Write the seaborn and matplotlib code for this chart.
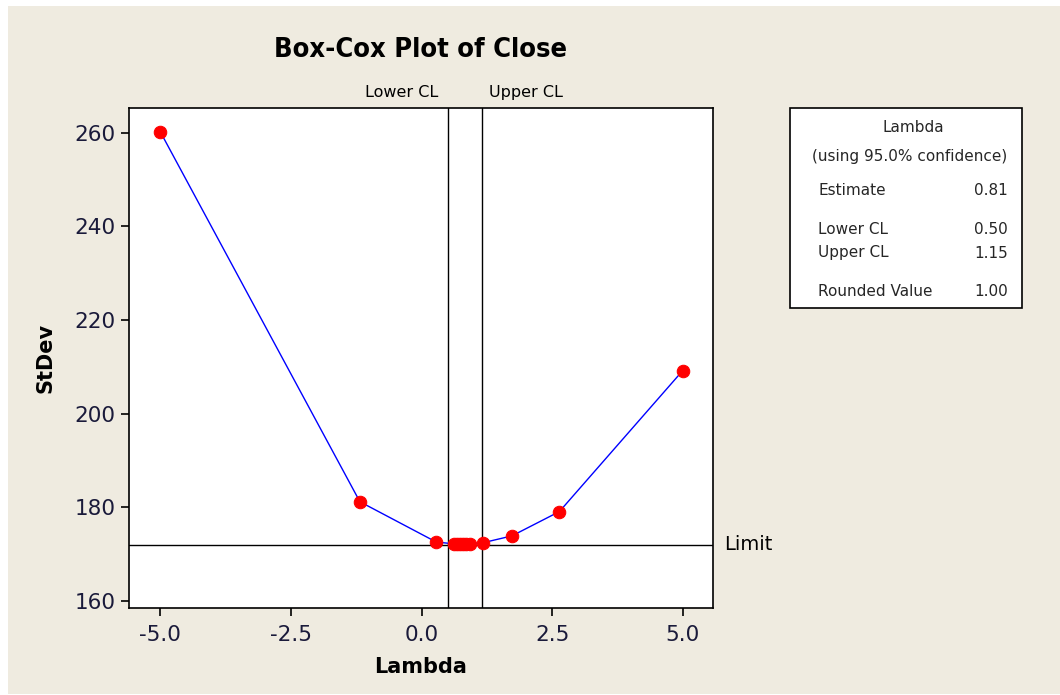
import matplotlib
matplotlib.use("Agg")
import matplotlib.pyplot as plt
import matplotlib.patches as mpatches
import pandas as pd
import seaborn as sns

# lambda values evaluated and the stdev at each
lambdas = [-5.0, -1.18, 0.28, 0.62, 0.68, 0.74, 0.80, 0.86, 0.92, 1.18, 1.73, 2.64, 5.0]
stdevs = [260.2, 181.2, 172.6, 172.2, 172.15, 172.1, 172.1, 172.1, 172.15, 172.45, 173.9, 179.1, 209.2]

lower_cl = 0.50
upper_cl = 1.15
limit = 172.0
estimate = 0.81
rounded = 1.00

x_ticks = [-5.0, -2.5, 0.0, 2.5, 5.0]
y_ticks = [160, 180, 200, 220, 240, 260]

df = pd.DataFrame({"Lambda": lambdas, "StDev": stdevs})

sns.set_style("ticks")
plt.rcParams['font.family'] = ['DejaVu Sans']

bg = "#efebe0"
txt = "#1a1a3a"

fig = plt.figure(figsize=(10.6, 6.95), dpi=100, facecolor="white")
fig.patches.append(mpatches.Rectangle((8 / 1060, 1 / 695), 1 - 8 / 1060, 1 - 7 / 695,
                                      transform=fig.transFigure, facecolor=bg,
                                      edgecolor="none", zorder=-10))

ax = fig.add_axes([129 / 1060, 1 - 608 / 695, 584 / 1060, 500 / 695])
ax.set_facecolor("white")

sns.lineplot(data=df, x="Lambda", y="StDev", ax=ax, color="blue", lw=1.0,
             marker="o", markersize=9, markerfacecolor="red",
             markeredgecolor="red", sort=True, zorder=3)

ax.axvline(lower_cl, color="black", lw=1)
ax.axvline(upper_cl, color="black", lw=1)
ax.axhline(limit, color="black", lw=1)

ax.set_xlim(-5.6, 5.58)
ax.set_ylim(158.5, 265.3)
ax.set_xticks(x_ticks)
ax.set_xticklabels([f"{v:.1f}" for v in x_ticks])
ax.set_yticks(y_ticks)
ax.tick_params(direction="out", length=6, width=1.2, labelsize=15.5,
               labelcolor=txt, color="black")
ax.tick_params(axis="x", pad=6)
for s in ax.spines.values():
    s.set_visible(True)
    s.set_color("black")
    s.set_linewidth(1.2)

ax.set_xlabel("Lambda", fontsize=15, fontweight="bold", color="black", labelpad=9)
ax.set_ylabel("StDev", fontsize=15, fontweight="bold", color="black", labelpad=14)

fig.text(421 / 1060, 1 - 50 / 695, "Box-Cox Plot of Close", ha="center", va="center",
         fontsize=19.5, fontweight="bold", fontstretch="condensed", color="black")

ax.annotate("Lower CL", xy=(lower_cl, 1), xycoords=("data", "axes fraction"),
            xytext=(-7, 11), textcoords="offset points", ha="right", va="center",
            fontsize=11.5, color="black")
ax.annotate("Upper CL", xy=(upper_cl, 1), xycoords=("data", "axes fraction"),
            xytext=(5, 11), textcoords="offset points", ha="left", va="center",
            fontsize=11.5, color="black")
ax.annotate("Limit", xy=(1, limit), xycoords=("axes fraction", "data"),
            xytext=(8, 0), textcoords="offset points", ha="left", va="center",
            fontsize=14, color="black")

# info box
bx0, by0, bx1, by1 = 790 / 1060, 1 - 308 / 695, 1022 / 1060, 1 - 108 / 695
fig.patches.append(mpatches.Rectangle((bx0, by0), bx1 - bx0, by1 - by0,
                                      transform=fig.transFigure, facecolor="white",
                                      edgecolor="black", lw=1.2, zorder=1))
fs = 11
fig.text(913 / 1060, 1 - 127 / 695, "Lambda", ha="center", va="center", fontsize=fs)
fig.text(910 / 1060, 1 - 157 / 695, "(using 95.0% confidence)", ha="center",
         va="center", fontsize=fs)
rows = [("Estimate", estimate, 190), ("Lower CL", lower_cl, 229),
        ("Upper CL", upper_cl, 253), ("Rounded Value", rounded, 292)]
for name, val, yy in rows:
    fig.text(818 / 1060, 1 - yy / 695, name, ha="left", va="center", fontsize=fs)
    fig.text(1008 / 1060, 1 - yy / 695, f"{val:.2f}", ha="right", va="center", fontsize=fs)

fig.savefig("out.png", dpi=100, facecolor=fig.get_facecolor())
